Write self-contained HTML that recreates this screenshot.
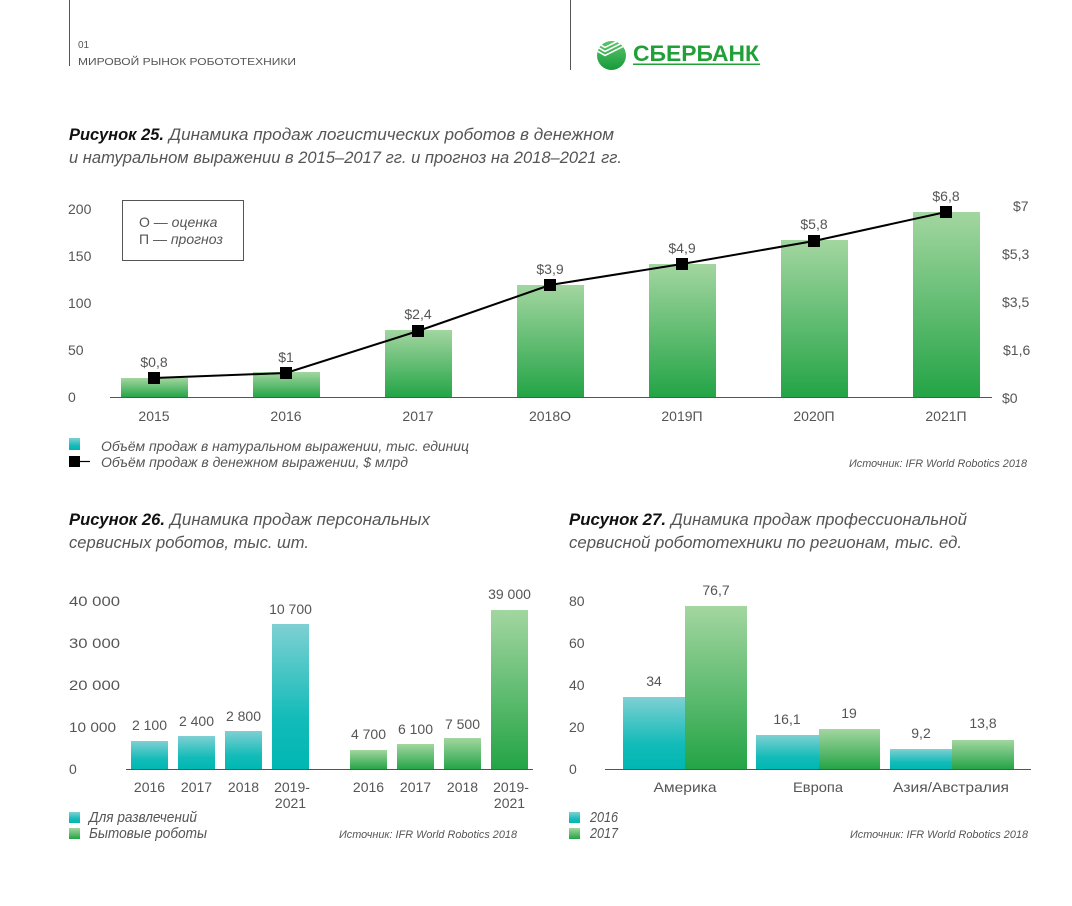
<!DOCTYPE html>
<html><head><meta charset="utf-8"><style>
html,body{margin:0;padding:0;background:#fff;}
svg{display:block;}
text{font-family:"Liberation Sans",sans-serif;}
</style></head><body>
<svg width="1072" height="906" viewBox="0 0 1072 906" xmlns="http://www.w3.org/2000/svg">
<defs>
<linearGradient id="gG" x1="0" y1="0" x2="0" y2="1"><stop offset="0" stop-color="#a3d6a0"/><stop offset="1" stop-color="#23a446"/></linearGradient>
<linearGradient id="gT" x1="0" y1="0" x2="0" y2="1"><stop offset="0" stop-color="#7fd0d3"/><stop offset="0.65" stop-color="#12bbb8"/><stop offset="1" stop-color="#00b7b3"/></linearGradient>
<linearGradient id="gL" x1="0" y1="0" x2="0" y2="1"><stop offset="0" stop-color="#5cc46a"/><stop offset="1" stop-color="#169a3a"/></linearGradient>
<clipPath id="cc"><circle cx="611.5" cy="55.5" r="14.5"/></clipPath>
</defs>

<!-- header -->
<line x1="69.5" y1="0" x2="69.5" y2="66" stroke="#555" stroke-width="1"/>
<line x1="570.5" y1="0" x2="570.5" y2="70" stroke="#555" stroke-width="1"/>
<text x="78" y="48" font-size="10" fill="#555">01</text>
<text x="78" y="65" font-size="10" fill="#555" textLength="218" lengthAdjust="spacingAndGlyphs">МИРОВОЙ  РЫНОК  РОБОТОТЕХНИКИ</text>
<circle cx="611.5" cy="55.5" r="14.5" fill="url(#gL)"/>
<g clip-path="url(#cc)" stroke="#fff" stroke-width="1.6" fill="none">
<polyline points="594,41 605,47.5 628,36"/>
<polyline points="594,45 605,51.5 628,40"/>
<polyline points="594,49 605,55.5 628,44"/>
</g>
<text x="633" y="61" font-size="22" font-weight="bold" fill="#21a038" textLength="126" lengthAdjust="spacingAndGlyphs">СБЕРБАНК</text>
<rect x="633" y="63.5" width="127" height="1.5" fill="#21a038"/>

<!-- title 25 -->
<text x="69" y="140" font-size="17" font-style="italic" font-weight="bold" fill="#111" textLength="95" lengthAdjust="spacingAndGlyphs">Рисунок 25.</text>
<text x="169" y="140" font-size="17" font-style="italic" fill="#555" textLength="445" lengthAdjust="spacingAndGlyphs">Динамика продаж логистических роботов в денежном</text>
<text x="69" y="163" font-size="17" font-style="italic" fill="#555" textLength="553" lengthAdjust="spacingAndGlyphs">и натуральном выражении в 2015–2017 гг. и прогноз на 2018–2021 гг.</text>

<!-- chart 25 -->
<g font-size="14" fill="#555">
<text x="68" y="214">200</text>
<text x="68" y="261">150</text>
<text x="68" y="308">100</text>
<text x="68" y="355">50</text>
<text x="68" y="402">0</text>
<text x="1013" y="211">$7</text>
<text x="1002" y="259">$5,3</text>
<text x="1002" y="307">$3,5</text>
<text x="1003" y="355">$1,6</text>
<text x="1002" y="403">$0</text>
</g>
<rect x="122.5" y="200.5" width="121" height="60" fill="none" stroke="#555" stroke-width="1"/>
<text x="139" y="227" font-size="14" fill="#555">О — <tspan font-style="italic">оценка</tspan></text>
<text x="139" y="244" font-size="14" fill="#555">П — <tspan font-style="italic">прогноз</tspan></text>

<g fill="url(#gG)">
<rect x="121" y="378" width="67" height="19.5"/>
<rect x="253" y="372" width="67" height="25.5"/>
<rect x="385" y="330" width="67" height="67.5"/>
<rect x="517" y="285" width="67" height="112.5"/>
<rect x="649" y="264" width="67" height="133.5"/>
<rect x="781" y="240" width="67" height="157.5"/>
<rect x="913" y="212" width="67" height="185.5"/>
</g>
<line x1="110" y1="397.5" x2="992" y2="397.5" stroke="#555" stroke-width="1"/>
<polyline points="154,378 286,373 418,331 550,285 682,264 814,241 946,212" fill="none" stroke="#000" stroke-width="2"/>
<g fill="#000">
<rect x="148" y="372" width="12" height="12"/>
<rect x="280" y="367" width="12" height="12"/>
<rect x="412" y="325" width="12" height="12"/>
<rect x="544" y="279" width="12" height="12"/>
<rect x="676" y="258" width="12" height="12"/>
<rect x="808" y="235" width="12" height="12"/>
<rect x="940" y="206" width="12" height="12"/>
</g>
<g font-size="14" fill="#555" text-anchor="middle">
<text x="154" y="367">$0,8</text>
<text x="286" y="362">$1</text>
<text x="418" y="319">$2,4</text>
<text x="550" y="274">$3,9</text>
<text x="682" y="253">$4,9</text>
<text x="814" y="229">$5,8</text>
<text x="946" y="201">$6,8</text>
<text x="154" y="421">2015</text>
<text x="286" y="421">2016</text>
<text x="418" y="421">2017</text>
<text x="550" y="421">2018О</text>
<text x="682" y="421">2019П</text>
<text x="814" y="421">2020П</text>
<text x="946" y="421">2021П</text>
</g>
<rect x="69" y="438" width="11" height="12" fill="url(#gT)"/>
<text x="101" y="451" font-size="14" font-style="italic" fill="#555" textLength="368" lengthAdjust="spacingAndGlyphs">Объём продаж в натуральном выражении, тыс. единиц</text>
<rect x="69" y="456" width="11" height="11" fill="#000"/>
<line x1="80" y1="461.5" x2="90" y2="461.5" stroke="#000" stroke-width="1.2"/>
<text x="101" y="467" font-size="14" font-style="italic" fill="#555" textLength="307" lengthAdjust="spacingAndGlyphs">Объём продаж в денежном выражении, $ млрд</text>
<text x="849" y="467" font-size="11" font-style="italic" fill="#555" textLength="178" lengthAdjust="spacingAndGlyphs">Источник: IFR World Robotics 2018</text>

<!-- title 26 -->
<text x="69" y="525" font-size="17" font-style="italic" font-weight="bold" fill="#111" textLength="96" lengthAdjust="spacingAndGlyphs">Рисунок 26.</text>
<text x="170" y="525" font-size="17" font-style="italic" fill="#555" textLength="260" lengthAdjust="spacingAndGlyphs">Динамика продаж персональных</text>
<text x="69" y="548" font-size="17" font-style="italic" fill="#555" textLength="240" lengthAdjust="spacingAndGlyphs">сервисных роботов, тыс. шт.</text>

<!-- title 27 -->
<text x="569" y="525" font-size="17" font-style="italic" font-weight="bold" fill="#111" textLength="97" lengthAdjust="spacingAndGlyphs">Рисунок 27.</text>
<text x="671" y="525" font-size="17" font-style="italic" fill="#555" textLength="296" lengthAdjust="spacingAndGlyphs">Динамика продаж профессиональной</text>
<text x="569" y="548" font-size="17" font-style="italic" fill="#555" textLength="393" lengthAdjust="spacingAndGlyphs">сервисной робототехники по регионам, тыс. ед.</text>

<!-- chart 26 -->
<g font-size="14" fill="#555">
<text x="69" y="606" textLength="51" lengthAdjust="spacingAndGlyphs">40 000</text>
<text x="69" y="648" textLength="51" lengthAdjust="spacingAndGlyphs">30 000</text>
<text x="69" y="690" textLength="51" lengthAdjust="spacingAndGlyphs">20 000</text>
<text x="69" y="732" textLength="47" lengthAdjust="spacingAndGlyphs">10 000</text>
<text x="69" y="774">0</text>
</g>
<g fill="url(#gT)">
<rect x="131" y="741" width="37" height="28.5"/>
<rect x="178" y="736" width="37" height="33.5"/>
<rect x="225" y="731" width="37" height="38.5"/>
<rect x="272" y="624" width="37" height="145.5"/>
</g>
<g fill="url(#gG)">
<rect x="350" y="750" width="37" height="19.5"/>
<rect x="397" y="744" width="37" height="25.5"/>
<rect x="444" y="738" width="37" height="31.5"/>
<rect x="491" y="610" width="37" height="159.5"/>
</g>
<line x1="126" y1="769.5" x2="533" y2="769.5" stroke="#555" stroke-width="1"/>
<g font-size="14" fill="#555" text-anchor="middle">
<text x="149.5" y="730">2 100</text>
<text x="196.5" y="726">2 400</text>
<text x="243.5" y="721">2 800</text>
<text x="290.5" y="614">10 700</text>
<text x="368.5" y="739">4 700</text>
<text x="415.5" y="734">6 100</text>
<text x="462.5" y="729">7 500</text>
<text x="509.5" y="599">39 000</text>
<text x="149.5" y="792">2016</text>
<text x="196.5" y="792">2017</text>
<text x="243.5" y="792">2018</text>
<text x="292" y="792">2019-</text>
<text x="290.5" y="808">2021</text>
<text x="368.5" y="792">2016</text>
<text x="415.5" y="792">2017</text>
<text x="462.5" y="792">2018</text>
<text x="511" y="792">2019-</text>
<text x="509.5" y="808">2021</text>
</g>
<rect x="69" y="812" width="11" height="11" fill="url(#gT)"/>
<text x="89" y="822" font-size="15" font-style="italic" fill="#555" textLength="108" lengthAdjust="spacingAndGlyphs">Для развлечений</text>
<rect x="69" y="828" width="11" height="11" fill="url(#gG)"/>
<text x="89" y="838" font-size="15" font-style="italic" fill="#555" textLength="118" lengthAdjust="spacingAndGlyphs">Бытовые роботы</text>
<text x="339" y="838" font-size="11" font-style="italic" fill="#555" textLength="178" lengthAdjust="spacingAndGlyphs">Источник: IFR World Robotics 2018</text>

<!-- chart 27 -->
<g font-size="14" fill="#555">
<text x="569" y="606">80</text>
<text x="569" y="648">60</text>
<text x="569" y="690">40</text>
<text x="569" y="732">20</text>
<text x="569" y="774">0</text>
</g>
<g fill="url(#gT)">
<rect x="623" y="697" width="62" height="72.5"/>
<rect x="756" y="735" width="63" height="34.5"/>
<rect x="890" y="749" width="62" height="20.5"/>
</g>
<g fill="url(#gG)">
<rect x="685" y="606" width="62" height="163.5"/>
<rect x="819" y="729" width="61" height="40.5"/>
<rect x="952" y="740" width="62" height="29.5"/>
</g>
<line x1="605" y1="769.5" x2="1031" y2="769.5" stroke="#555" stroke-width="1"/>
<g font-size="14" fill="#555" text-anchor="middle">
<text x="654" y="686">34</text>
<text x="716" y="595">76,7</text>
<text x="787" y="724">16,1</text>
<text x="849" y="718">19</text>
<text x="921" y="738">9,2</text>
<text x="983" y="728">13,8</text>
<text x="685" y="792" textLength="63" lengthAdjust="spacingAndGlyphs">Америка</text>
<text x="818" y="792" textLength="50" lengthAdjust="spacingAndGlyphs">Европа</text>
<text x="951" y="792" textLength="116" lengthAdjust="spacingAndGlyphs">Азия/Австралия</text>
</g>
<rect x="569" y="812" width="11" height="11" fill="url(#gT)"/>
<text x="590" y="822" font-size="15" font-style="italic" fill="#555" textLength="28" lengthAdjust="spacingAndGlyphs">2016</text>
<rect x="569" y="828" width="11" height="11" fill="url(#gG)"/>
<text x="590" y="838" font-size="15" font-style="italic" fill="#555" textLength="28" lengthAdjust="spacingAndGlyphs">2017</text>
<text x="850" y="838" font-size="11" font-style="italic" fill="#555" textLength="178" lengthAdjust="spacingAndGlyphs">Источник: IFR World Robotics 2018</text>
</svg>
</body></html>
